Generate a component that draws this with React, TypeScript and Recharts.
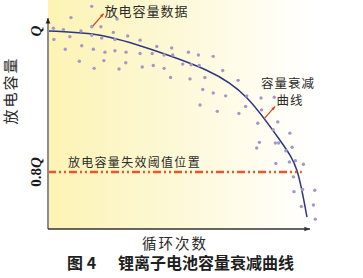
import React from "react";
import {
  ComposedChart,
  Line,
  Scatter,
  XAxis,
  YAxis,
  ReferenceLine,
  ReferenceArea,
  ReferenceDot,
} from "recharts";

// fitted decay curve (cycles as % of range, capacity as fraction of Q)
const curveX = [0, 19.3, 38.9, 58.9, 73.7, 85.9, 92.2, 95.9];
const curveQ = [1.0, 0.994, 0.973, 0.944, 0.905, 0.845, 0.802, 0.736];

// measured discharge capacity samples
const sampleX = [
  16.2, 8.5, 25.6, 2.0, 5.7, 12.2, 16.2, 19.6, 24.2, 29.5, 2.2, 8.1, 16.2, 19.9, 24.8, 34.1,
  6.4, 12.5, 16.8, 21.1, 24.8, 28.9, 34.1, 40.3, 38.6, 45.8, 43.0, 46.2, 52.0, 55.7, 61.2,
  11.6, 20.7, 28.8, 17.1, 26.3, 34.9, 39.0, 43.0, 49.9, 53.0, 56.0, 64.7, 45.4, 52.6, 58.1,
  70.4, 57.3, 61.2, 65.8, 73.6, 78.9, 83.8, 56.3, 62.7, 70.7, 73.2, 79.1, 77.7, 85.1, 83.4,
  89.6, 78.3, 77.3, 84.2, 85.4, 90.4, 88.1, 89.4, 84.4, 91.6, 94.6, 90.9, 91.1, 94.3, 98.8,
  98.3, 93.8, 99.0,
];
const sampleQ = [
  1.035, 1.019, 1.017, 1.004, 1.002, 1.0, 1.006, 1.006, 0.998, 0.993, 0.988, 0.992, 0.994,
  0.99, 0.988, 0.987, 0.974, 0.979, 0.974, 0.97, 0.972, 0.97, 0.968, 0.978, 0.968, 0.976,
  0.966, 0.966, 0.97, 0.966, 0.964, 0.957, 0.958, 0.955, 0.947, 0.946, 0.949, 0.951, 0.947,
  0.953, 0.952, 0.951, 0.944, 0.934, 0.932, 0.934, 0.93, 0.917, 0.912, 0.908, 0.908, 0.905,
  0.906, 0.895, 0.886, 0.883, 0.893, 0.888, 0.869, 0.871, 0.86, 0.855, 0.842, 0.834, 0.841,
  0.841, 0.835, 0.83, 0.814, 0.812, 0.816, 0.811, 0.793, 0.772, 0.775, 0.774, 0.753, 0.751,
  0.733,
];

const yTicks = [0.8, 1];
const threshold = 0.8;
const xDomain = [0, 100];
const yDomain = [0.719, 1.044];

const curveData = curveX.map((x, i) => ({ x, q: curveQ[i] }));
const sampleData = sampleX.map((x, i) => ({ x, q: sampleQ[i] }));

const cjk = "'Noto Sans CJK SC', sans-serif";
const tightCjk = "'Liberation Serif', 'Noto Sans CJK SC', sans-serif";

const arrowLine = (color: string, width: number, head: number, headColor?: string) => (p: any) => {
  const { x1, y1, x2, y2 } = p;
  const a = Math.atan2(y2 - y1, x2 - x1);
  const hx1 = x2 - head * Math.cos(a - 0.4);
  const hy1 = y2 - head * Math.sin(a - 0.4);
  const hx2 = x2 - head * Math.cos(a + 0.4);
  const hy2 = y2 - head * Math.sin(a + 0.4);
  return (
    <g>
      <line x1={x1} y1={y1} x2={x2} y2={y2} stroke={color} strokeWidth={width} />
      <polygon points={`${x2},${y2} ${hx1},${hy1} ${hx2},${hy2}`} fill={headColor || color} />
    </g>
  );
};

const textAt = (label: string, size: number, anchor: string = "middle", spacing = 1, family = cjk) => (p: any) => (
  <text
    x={p.cx}
    y={p.cy}
    textAnchor={anchor}
    dominantBaseline="central"
    fontSize={size}
    letterSpacing={spacing}
    fill="#2a2a2a"
    fontFamily={family}
  >
    {label}
  </text>
);

const YTick = (p: any) => {
  const v = p.payload.value;
  return (
    <text
      transform={`translate(36, ${p.y}) rotate(-90)`}
      textAnchor="middle"
      dominantBaseline="central"
      fontSize={15}
      fontWeight="bold"
      fill="#1a1a1a"
      fontFamily="'Liberation Serif', serif"
    >
      {v < 1 ? <tspan>0.8</tspan> : null}
      <tspan fontStyle="italic">Q</tspan>
    </text>
  );
};

const dot = (p: any) => <circle cx={p.cx} cy={p.cy} r={1.7} fill="#a597c9" />;

export default function App() {
  return (
    <div style={{ position: "fixed", left: 0, top: 0, width: 363, height: 278, background: "#fff" }}>
      <ComposedChart width={363} height={278} margin={{ top: 0, right: 45, bottom: 49, left: 0 }}>
        <defs>
          <linearGradient id="bgFade" x1="0" y1="0" x2="1" y2="0">
            <stop offset="0%" stopColor="#fcf3b4" />
            <stop offset="45%" stopColor="#fdf8d5" />
            <stop offset="80%" stopColor="#fffdf1" />
            <stop offset="100%" stopColor="#ffffff" />
          </linearGradient>
        </defs>
        <XAxis type="number" dataKey="x" domain={xDomain} allowDataOverflow hide />
        <YAxis
          type="number"
          dataKey="q"
          domain={yDomain}
          allowDataOverflow
          ticks={yTicks}
          width={48}
          axisLine={false}
          tickLine={false}
          tick={YTick}
          label={{
            value: "放电容量",
            angle: -90,
            position: "insideLeft",
            offset: 11,
            dy: 10,
            fontSize: 15,
            fill: "#2a2a2a",
            letterSpacing: 2,
            fontFamily: cjk,
          }}
        />
        <ReferenceArea x1={0} x2={100} y1={yDomain[0]} y2={yDomain[1]} fill="url(#bgFade)" fillOpacity={1} stroke="none" ifOverflow="visible" />
        <Scatter data={sampleData} dataKey="q" shape={dot} isAnimationActive={false} />
        <Line
          data={curveData}
          dataKey="q"
          type="natural"
          stroke="#2c3683"
          strokeWidth={1.5}
          dot={false}
          isAnimationActive={false}
        />
        <ReferenceLine
          segment={[{ x: 0, y: threshold }, { x: 94, y: threshold }]}
          stroke="#e8562a"
          strokeWidth={2.5}
          strokeDasharray="8 3 2 3 2 3"
          ifOverflow="visible"
        />
        {/* axes with arrow heads */}
        <ReferenceLine
          segment={[{ x: 0, y: yDomain[0] }, { x: 0, y: 1.0185 }]}
          shape={arrowLine("#8c8c8c", 2, 6, "#222")}
          ifOverflow="visible"
        />
        <ReferenceLine
          segment={[{ x: 0, y: yDomain[0] }, { x: 97, y: yDomain[0] }]}
          shape={arrowLine("#333333", 1.5, 6)}
          ifOverflow="visible"
        />
        {/* annotation arrows */}
        <ReferenceLine
          segment={[{ x: 16.3, y: 1.0057 }, { x: 20.6, y: 1.0248 }]}
          shape={arrowLine("#e0401e", 1.2, 4)}
          ifOverflow="visible"
        />
        <ReferenceLine
          segment={[{ x: 80.0, y: 0.8752 }, { x: 84.1, y: 0.8929 }]}
          shape={arrowLine("#e0401e", 1.2, 4)}
          ifOverflow="visible"
        />
        <ReferenceDot x={36.5} y={1.0298} r={0} shape={textAt("放电容量数据", 13)} ifOverflow="visible" />
        <ReferenceDot x={88.9} y={0.925} r={0} shape={textAt("容量衰减", 12.5, "middle", 1, tightCjk)} ifOverflow="visible" />
        <ReferenceDot x={89.6} y={0.9012} r={0} shape={textAt("曲线", 12.5, "middle", 1, tightCjk)} ifOverflow="visible" />
        <ReferenceDot x={7.4} y={0.8142} r={0} shape={textAt("放电容量失效阈值位置", 12, "start", 1.3)} ifOverflow="visible" />
      </ComposedChart>
      <div
        style={{
          position: "absolute",
          left: 0,
          width: 350,
          top: 236,
          textAlign: "center",
          fontSize: 14.5,
          letterSpacing: 2,
          color: "#2a2a2a",
          fontFamily: tightCjk,
          lineHeight: "16px",
        }}
      >
        循环次数
      </div>
      <div
        style={{
          position: "absolute",
          left: 67,
          top: 253.5,
          fontSize: 16,
          fontWeight: "bold",
          color: "#1e1e1e",
          fontFamily: cjk,
          lineHeight: "17px",
          whiteSpace: "pre",
        }}
      >
        图 4
      </div>
      <div
        style={{
          position: "absolute",
          left: 118,
          top: 255,
          fontSize: 16,
          fontWeight: "bold",
          color: "#1e1e1e",
          fontFamily: "'Liberation Sans', 'Noto Sans CJK SC', sans-serif",
          lineHeight: "17px",
          whiteSpace: "pre",
        }}
      >
        锂离子电池容量衰减曲线
      </div>
    </div>
  );
}
